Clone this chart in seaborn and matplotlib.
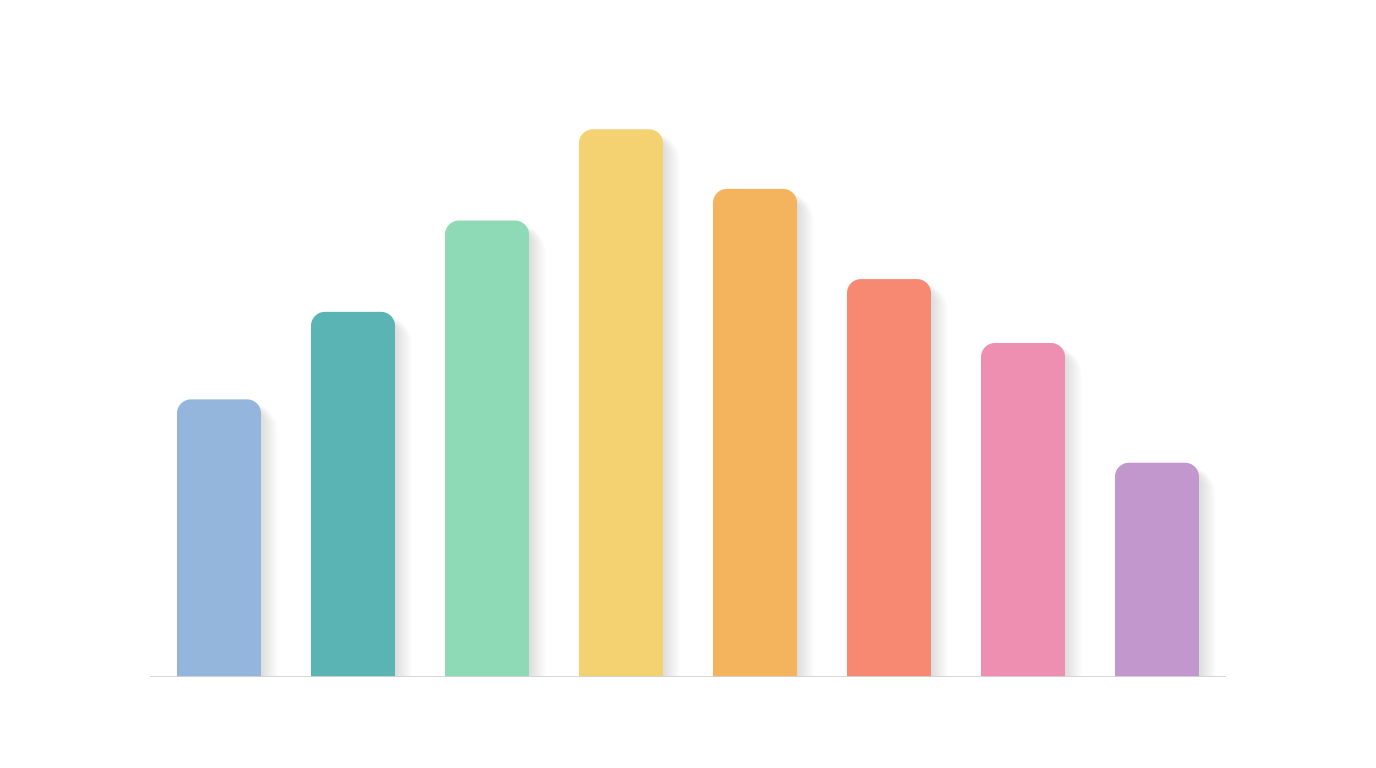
import numpy as np
import pandas as pd
import matplotlib
matplotlib.use("Agg")
import matplotlib.pyplot as plt
import seaborn as sns
from matplotlib.path import Path
from matplotlib.patches import PathPatch

categories = ["A", "B", "C", "D", "E", "F", "G", "H"]
values = [51.7, 68.0, 85.0, 102.0, 90.9, 74.1, 62.2, 39.9]
colors = ["#94B5DC", "#5BB4B4", "#8ED9B6", "#F5D271",
          "#F4B35D", "#F78872", "#EE8FB1", "#C297CE"]

sns.set_theme(style="white")
fig = plt.figure(figsize=(13.76, 7.68), dpi=100)
fig.patch.set_facecolor("white")
ax = fig.add_axes([150 / 1376, 91 / 768, 1076 / 1376, 600 / 768])

df = pd.DataFrame({"cat": categories, "val": values})
sns.barplot(data=df, x="cat", y="val", hue="cat", palette=colors,
            width=0.627, legend=False, ax=ax, saturation=1)

ax.set_xlim(-0.515, 7.515)
ax.set_ylim(0, 111.73)
for s in ax.spines.values():
    s.set_visible(False)
ax.set_xticks([])
ax.set_yticks([])
ax.set_xlabel("")
ax.set_ylabel("")

# pixel -> data scale
px_x = (ax.get_xlim()[1] - ax.get_xlim()[0]) / 1076.0
px_y = (ax.get_ylim()[1] - ax.get_ylim()[0]) / 600.0


def rounded_path(x0, x1, top, rx, ry, bottom=0.0, n=24):
    verts = [(x0, bottom), (x1, bottom)]
    t = np.linspace(0, np.pi / 2, n)
    cx, cy = x1 - rx, top - ry
    verts += list(zip(cx + rx * np.cos(t), cy + ry * np.sin(t)))
    t = np.linspace(np.pi / 2, np.pi, n)
    cx = x0 + rx
    verts += list(zip(cx + rx * np.cos(t), cy + ry * np.sin(t)))
    verts.append((x0, bottom))
    codes = [Path.MOVETO] + [Path.LINETO] * (len(verts) - 2) + [Path.CLOSEPOLY]
    return Path(verts, codes)


r = 14
for p in list(ax.patches):
    x0 = p.get_x()
    w = p.get_width()
    h = p.get_height()
    fc = p.get_facecolor()
    p.set_visible(False)
    # soft shadow
    nl = 16
    for k in range(nl):
        e = k * 1.0
        sp = rounded_path(x0 + (3 - e * 0.2) * px_x, x0 + w + (2 + e) * px_x,
                          h - (8 - e * 0.3) * px_y, (r + e) * px_x, (r + e) * px_y,
                          bottom=-20)
        ax.add_patch(PathPatch(sp, facecolor="#000000", edgecolor="none",
                               alpha=0.009, zorder=1))
    bp = rounded_path(x0, x0 + w, h, r * px_x, r * px_y)
    ax.add_patch(PathPatch(bp, facecolor=fc, edgecolor="none", zorder=3))

ax.axhline(0, color="#D3D3D3", lw=1.3, zorder=4)

fig.savefig("out.png", dpi=100, facecolor="white")
